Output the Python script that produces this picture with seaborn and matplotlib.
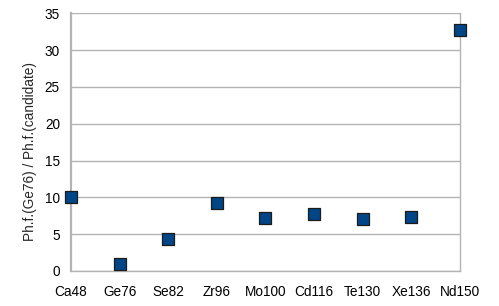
"""Phase-factor ratio per double-beta candidate isotope."""

import matplotlib

matplotlib.use("Agg")
import matplotlib.pyplot as plt
import pandas as pd
import seaborn as sns

isotopes = ["Ca48", "Ge76", "Se82", "Zr96", "Mo100", "Cd116", "Te130", "Xe136", "Nd150"]
ratios = [10.0, 1.0, 4.4, 9.2, 7.2, 7.8, 7.0, 7.4, 32.8]
y_ticks = [0, 5, 10, 15, 20, 25, 30, 35]

df = pd.DataFrame({"isotope": isotopes, "ratio": ratios})
df["pos"] = range(len(df))

sns.set_theme(style="white")
plt.rcParams["font.family"] = ["Liberation Sans", "DejaVu Sans"]

fig = plt.figure(figsize=(4.99, 3.06), dpi=100)
ax = fig.add_axes([0.1423, 0.1144, 0.7795, 0.8421])

grid_col = "#b3b3b3"
for t in y_ticks:
    ax.axhline(t, color=grid_col, linewidth=1.0, zorder=0)

sns.scatterplot(
    data=df,
    x="pos",
    y="ratio",
    marker="s",
    s=85,
    color="#004586",
    edgecolor="#1c1c1c",
    linewidth=0.9,
    ax=ax,
    zorder=3,
    clip_on=False,
    legend=False,
)

ax.set_xlim(0, len(isotopes) - 1)
ax.set_ylim(0, 35)
ax.set_xticks(df["pos"])
ax.set_xticklabels(isotopes)
ax.set_yticks(y_ticks)

for side in ["left", "right", "bottom"]:
    ax.spines[side].set_color(grid_col)
    ax.spines[side].set_linewidth(1.0)
ax.spines["left"].set_linewidth(1.6)
ax.spines["top"].set_visible(False)

ax.tick_params(axis="both", which="major", direction="out", length=5, width=1.0,
               color=grid_col, labelsize=9.8, labelcolor="black", pad=3)
ax.tick_params(axis="x", pad=5)

ax.set_xlabel("")
ax.set_ylabel("Ph.f.(Ge76) / Ph.f.(candidate)", fontsize=9.8)
ax.yaxis.set_label_coords(-0.088, 0.465)

fig.savefig("out.png", dpi=100)
plt.close(fig)
